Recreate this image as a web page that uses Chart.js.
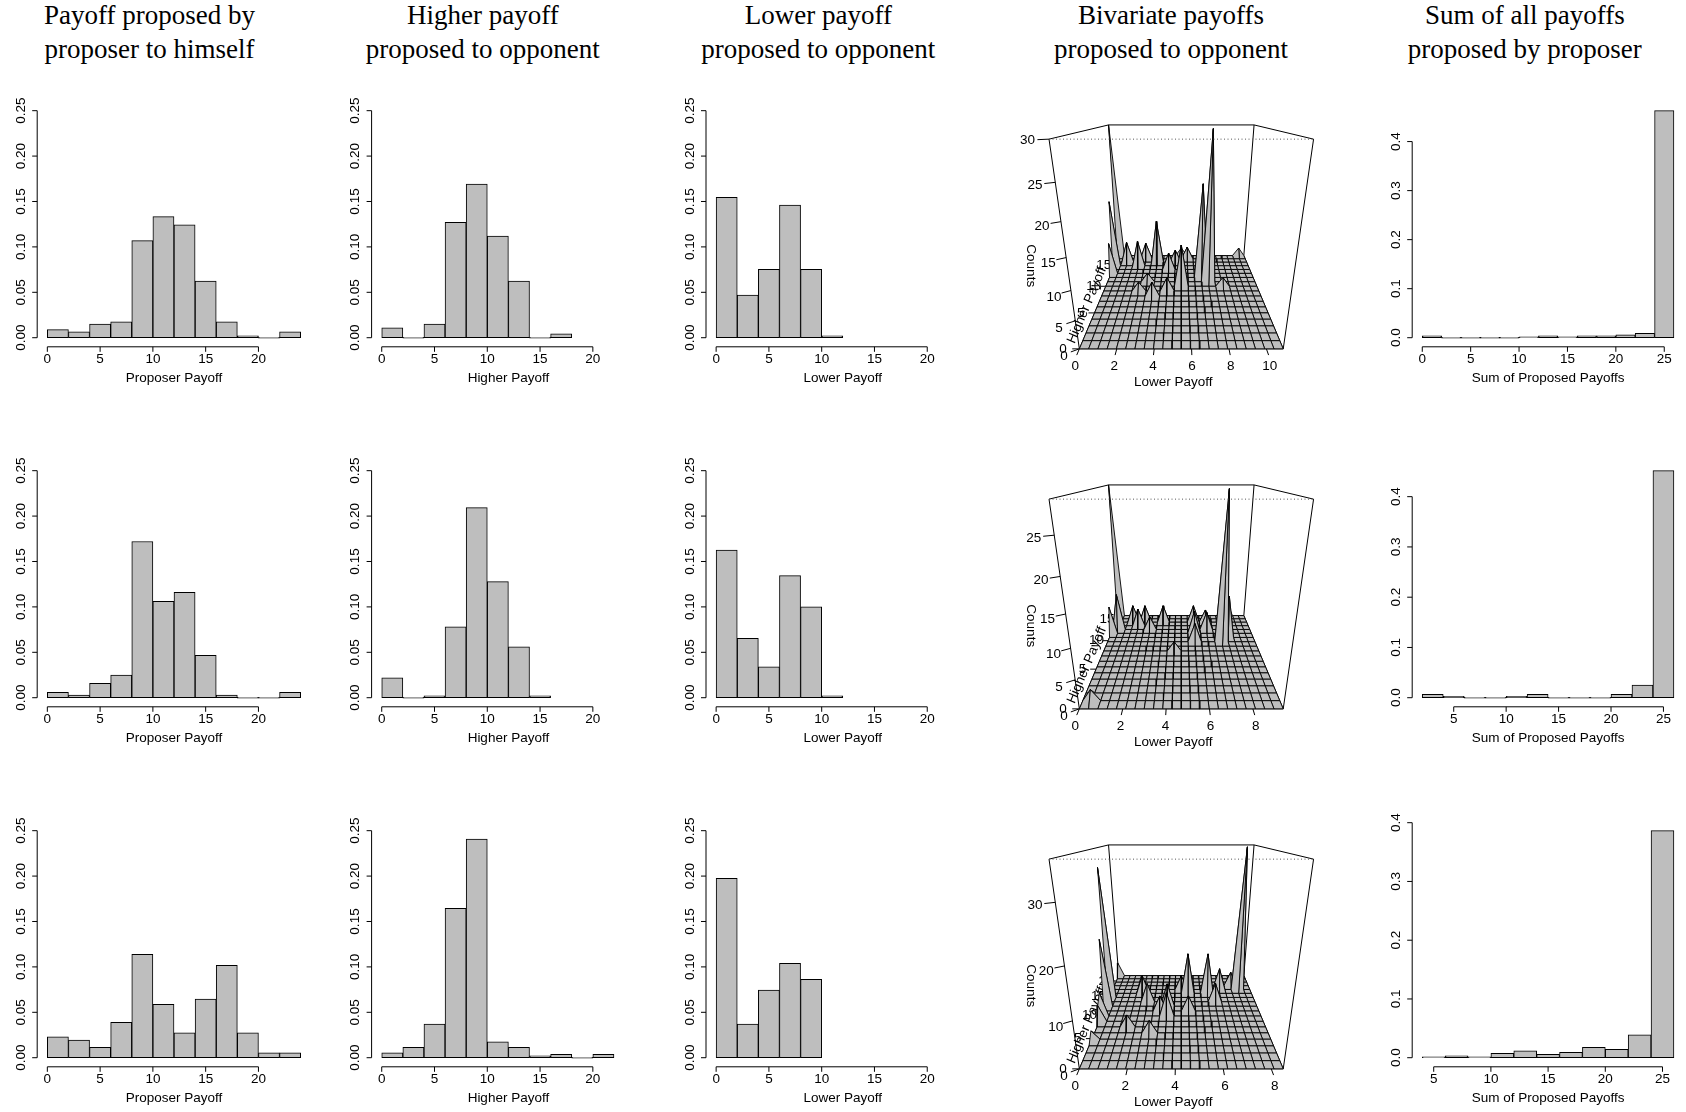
<!DOCTYPE html>
<html>
<head>
<meta charset="utf-8">
<script src="https://cdn.jsdelivr.net/npm/chart.js@4.4.1/dist/chart.umd.min.js"></script>
<style>
  body { margin: 0; background: #fff; width: 1686px; height: 1112px; position: relative; overflow: hidden; }
  canvas { position: absolute; }
  .title { position: absolute; top: -1px; transform: translateX(-50%); text-align: center; white-space: nowrap;
           font-family: "Liberation Serif", "Times New Roman", serif; font-size: 27px; line-height: 33.5px; color: #000; }
</style>
</head>
<body>
<script>
// ---- data ----
const columnTitles = [
    ['Payoff proposed by', 'proposer to himself'],
    ['Higher payoff', 'proposed to opponent'],
    ['Lower payoff', 'proposed to opponent'],
    ['Bivariate payoffs', 'proposed to opponent'],
    ['Sum of all payoffs', 'proposed by proposer']
];
const binWidth = 2;

// densities per 2-unit bin, one array per row (treatment)
const proposerPayoff = [
    [0.009, 0.0066, 0.015, 0.0176, 0.107, 0.1333, 0.1244, 0.0624, 0.0176, 0.0022, 0, 0.0066],
    [0.0059, 0.003, 0.0158, 0.025, 0.172, 0.106, 0.116, 0.0466, 0.003, 0, 0, 0.0059],
    [0.0231, 0.0195, 0.0114, 0.0389, 0.1138, 0.0587, 0.0275, 0.0646, 0.1017, 0.0275, 0.0055, 0.0055]
];
const higherPayoff = [
    [0.011, 0, 0.015, 0.127, 0.1692, 0.112, 0.0624, 0, 0.0044],
    [0.022, 0, 0.0022, 0.078, 0.2093, 0.1278, 0.056, 0.0022],
    [0.0055, 0.0114, 0.0371, 0.1645, 0.2408, 0.0176, 0.0114, 0.0022, 0.0037, 0, 0.0037]
];
const lowerPayoff = [
    [0.1545, 0.047, 0.0753, 0.146, 0.0753, 0.0022],
    [0.1626, 0.0653, 0.0341, 0.1344, 0.1002, 0.0022],
    [0.1975, 0.0371, 0.0745, 0.1039, 0.0863]
];
const sumPayoff = [
    [0.004, 0, 0, 0, 0, 0.002, 0.004, 0.002, 0.004, 0.004, 0.006, 0.009, 0.463],
    [0.0066, 0.0027, 0, 0, 0.0027, 0.0066, 0, 0, 0, 0.0066, 0.0252, 0.4517],
    [0.0017, 0.0034, 0.0017, 0.0074, 0.0119, 0.0057, 0.0091, 0.0176, 0.0142, 0.0391, 0.3864]
];
const sumFirstBreak = [0, 2, 4];

const payoffTicks = [0, 5, 10, 15, 20];
const densityTicks = [0, 0.05, 0.10, 0.15, 0.20, 0.25];
const sumTicks = [[0, 5, 10, 15, 20, 25], [5, 10, 15, 20, 25], [5, 10, 15, 20, 25]];
const sumDensityTicks = [0, 0.1, 0.2, 0.3, 0.4];

// bivariate counts: [lower payoff, higher payoff, count]
const bivariatePeaks1 = [
    [0, 18, 30], [0, 15, 15], [0, 13, 7], [2, 15, 6], [3.5, 16, 10], [5.5, 10, 9],
    [7, 12, 20], [7.4, 11, 30], [10.4, 18, 2], [1, 16, 5], [2.5, 17, 4], [4.5, 14, 4],
    [5, 16, 3], [6, 17, 3], [2.5, 9, 2], [3.5, 8, 3], [4.5, 9, 3], [3, 11, 2], [8.4, 10, 2], [5.5, 18, 2]
];
const bivariatePeaks2 = [
    [0, 16, 29], [7.3, 10.2, 29], [7.7, 11.1, 9], [0, 11.6, 6], [0.4, 12.4, 8],
    [1.3, 14.2, 4], [2.1, 14.2, 4], [3.4, 14.2, 4], [5.5, 14.2, 4], [6.4, 14.2, 3], [8.1, 16, 3],
    [5.5, 11.6, 5], [5.5, 9.8, 4], [4.3, 8, 2], [2.6, 12.4, 3], [1.7, 13.3, 4], [6.4, 12.4, 4], [0.4, 0.9, 2]
];
const bivariatePeaks3 = [
    [7.7, 17.1, 36], [0, 14.7, 32], [0, 12.2, 17], [0, 22, 4], [0, 9.8, 6], [0, 8.6, 4], [0, 4.9, 2],
    [4.6, 15.9, 11], [5.8, 15.9, 11], [3.5, 12.2, 6], [1.9, 15.9, 5], [2.3, 13.4, 5], [3.1, 11, 4],
    [3.5, 9.8, 6], [2.7, 6.1, 3], [1.5, 7.3, 3], [6.6, 17.1, 6], [7.3, 18.3, 4], [4.2, 17.1, 4],
    [6.2, 13.4, 5], [4.6, 11, 4]
];
const lowerRange3d = [10.9, 9.4, 8.5];
const higherRange3d = [18, 16, 22];
const countTicks3d = [[0, 5, 10, 15, 20, 25, 30], [0, 5, 10, 15, 20, 25], [0, 10, 20, 30]];
const lowerTicks3d = [[0, 2, 4, 6, 8, 10], [0, 2, 4, 6, 8], [0, 2, 4, 6, 8]];
const higherTicks3d = [[0, 5, 10, 15], [0, 5, 10, 15], [0, 5, 10, 15, 20]];

// ---- layout ----
const FONT = '13.5px "Liberation Sans", Arial, sans-serif';
const titleCenters = [149.5, 482.8, 818.3, 1171, 1524.8];
const ROW_STEP = 360;
const NX = 22, NY = 18;   // surface grid resolution
const view = { phi: 20 * Math.PI / 180, r: 3.58, k: 304, cx: 1181.3, cy: 218.2 };

columnTitles.forEach((t, i) => {
    const d = document.createElement('div');
    d.className = 'title';
    d.style.left = titleCenters[i] + 'px';
    d.innerHTML = t[0] + '<br>' + t[1];
    document.body.appendChild(d);
});

function addCanvas(left, top, width, height) {
    const cv = document.createElement('canvas');
    cv.width = width;
    cv.height = height;
    cv.style.left = left + 'px';
    cv.style.top = top + 'px';
    cv.style.width = width + 'px';
    cv.style.height = height + 'px';
    document.body.appendChild(cv);
    return cv;
}

// R style axes: lines only between the first and last tick
const rAxes = {
    id: 'rAxes',
    afterDraw(chart, args, opts) {
        const { ctx, chartArea: a, scales: { x, y } } = chart;
        ctx.save();
        ctx.strokeStyle = '#000';
        ctx.fillStyle = '#000';
        ctx.lineWidth = 1;
        ctx.font = FONT;
        ctx.textAlign = 'center';
        ctx.textBaseline = 'middle';

        const xs = opts.xTicks.map(v => x.getPixelForValue(v));
        const yb = a.bottom;
        ctx.beginPath();
        ctx.moveTo(xs[0], yb);
        ctx.lineTo(xs[xs.length - 1], yb);
        xs.forEach(px => { ctx.moveTo(px, yb); ctx.lineTo(px, yb + 5); });
        ctx.stroke();
        opts.xTicks.forEach((v, i) => ctx.fillText(String(v), xs[i], yb + 12.5));
        ctx.fillText(opts.xTitle, (a.left + a.right) / 2, yb + 31);

        const ys = opts.yTicks.map(v => y.getPixelForValue(v));
        const xl = a.left;
        ctx.beginPath();
        ctx.moveTo(xl, ys[0]);
        ctx.lineTo(xl, ys[ys.length - 1]);
        ys.forEach(py => { ctx.moveTo(xl, py); ctx.lineTo(xl - 5, py); });
        ctx.stroke();
        opts.yTicks.forEach((v, i) => {
            ctx.save();
            ctx.translate(xl - 16, ys[i]);
            ctx.rotate(-Math.PI / 2);
            ctx.fillText(v.toFixed(opts.digits), 0, 0);
            ctx.restore();
        });
        ctx.restore();
    }
};

function drawHistogram(box, plot, values, firstBreak, xlim, ymax, xTicks, yTicks, digits, xTitle) {
    const cv = addCanvas(box.left, box.top, box.width, box.height);
    const xr = xlim[1] - xlim[0];
    new Chart(cv, {
        type: 'bar',
        data: {
            datasets: [{
                data: values.map((v, i) => ({ x: firstBreak + binWidth * (i + 0.5), y: v })),
                backgroundColor: '#bebebe',
                borderColor: '#000',
                borderWidth: 1,
                borderSkipped: false,
                barPercentage: 1,
                categoryPercentage: 1,
                minBarLength: 1
            }]
        },
        options: {
            responsive: false,
            animation: false,
            events: [],
            devicePixelRatio: 1,
            layout: { padding: {
                left: plot.left - box.left, right: box.left + box.width - plot.right,
                top: plot.top - box.top, bottom: box.top + box.height - plot.bottom } },
            plugins: { legend: { display: false }, tooltip: { enabled: false },
                       rAxes: { xTicks, yTicks, digits, xTitle } },
            scales: {
                x: { type: 'linear', display: false, offset: false,
                     min: xlim[0] - 0.04 * xr, max: xlim[1] + 0.04 * xr,
                     ticks: { stepSize: 2, includeBounds: false, maxTicksLimit: 100 } },
                y: { type: 'linear', display: false, min: -0.04 * ymax, max: 1.04 * ymax }
            }
        },
        plugins: [rAxes]
    });
}

const histColumns = [
    { values: proposerPayoff, title: 'Proposer Payoff' },
    { values: higherPayoff, title: 'Higher Payoff' },
    { values: lowerPayoff, title: 'Lower Payoff' }
];

for (let r = 0; r < 3; r++) {
    const top = 101.6 + ROW_STEP * r, bottom = 346.8 + ROW_STEP * r;
    histColumns.forEach((col, c) => {
        const off = c * 334.4;
        drawHistogram({ left: Math.round(off), top: 80 + ROW_STEP * r, width: 334, height: 312 },
                      { left: 37.2 + off, right: 310.8 + off, top, bottom },
                      col.values[r], 0, [0, 24], 0.25, payoffTicks, densityTicks, 2, col.title);
    });
    const sums = sumPayoff[r];
    drawHistogram({ left: 1370, top: 80 + ROW_STEP * r, width: 316, height: 312 },
                  { left: 1412.2, right: 1684, top, bottom },
                  sums, sumFirstBreak[r], [sumFirstBreak[r], sumFirstBreak[r] + binWidth * sums.length],
                  Math.max(...sums), sumTicks[r], sumDensityTicks, 1, 'Sum of Proposed Payoffs');
}

// ---- perspective surfaces ----
function project(X, Y, Z, cy) {
    const s = Math.sin(view.phi), c = Math.cos(view.phi);
    const sv = Y * s + Z * c, dd = Y * c - Z * s;
    const w = view.k / (view.r + dd);
    return { x: view.cx + X * w, y: cy - sv * w };
}

// axes of the box are drawn before the surface, so tall facets can hide them
const perspLabels = {
    id: 'perspLabels',
    beforeDatasetsDraw(chart, args, o) {
        const { ctx, scales: { x, y } } = chart;
        const P = (X, Y, Z) => {
            const p = project(X, Y, Z, o.cy);
            return { x: x.getPixelForValue(p.x), y: y.getPixelForValue(p.y) };
        };
        const seg = (a, b) => { ctx.moveTo(a.x, a.y); ctx.lineTo(b.x, b.y); };
        ctx.save();
        ctx.strokeStyle = '#000';
        ctx.fillStyle = '#000';
        ctx.lineWidth = 1;
        ctx.font = FONT;
        ctx.textAlign = 'center';
        ctx.textBaseline = 'middle';
        ctx.beginPath();
        o.countTicks.forEach(v => {
            const Z = 2 * v / o.zmax - 1;
            seg(P(-1, -1, Z), P(-1.07, -1.04, Z));
        });
        o.lowerTicks.forEach(v => {
            const X = 2 * v / o.lowerMax - 1;
            seg(P(X, -1, -1), P(X, -1.08, -1));
        });
        o.higherTicks.forEach(v => {
            const Y = 2 * v / o.higherMax - 1;
            seg(P(-1, Y, -1), P(-1.07, Y, -1));
        });
        ctx.stroke();

        o.countTicks.forEach(v => {
            const t = P(-1.115, -1.1, 2 * v / o.zmax - 1);
            ctx.fillText(String(v), t.x, t.y);
        });
        o.lowerTicks.forEach(v => {
            const t = P(2 * v / o.lowerMax - 1, -1.12, -1);
            ctx.fillText(String(v), t.x, t.y + 8);
        });
        o.higherTicks.forEach(v => {
            const t = P(-1.16, 2 * v / o.higherMax - 1, -1);
            ctx.fillText(String(v), t.x, t.y);
        });
        const mid = P(0, -1, -1);
        ctx.fillText('Lower Payoff', mid.x - 8, mid.y + 33);

        const cl = P(-1.32, -1, -0.08);
        ctx.save();
        ctx.translate(cl.x, cl.y);
        ctx.rotate(Math.PI / 2);
        ctx.fillText('Counts', 0, 0);
        ctx.restore();

        const e0 = P(-1, -1, -1), e1 = P(-1, 1, -1), hl = P(-1.13, -0.3, -1);
        ctx.save();
        ctx.translate(hl.x, hl.y);
        ctx.rotate(Math.atan2(e1.y - e0.y, e1.x - e0.x));
        ctx.fillText('Higher Payoff', 0, 0);
        ctx.restore();
        ctx.restore();
    }
};

function drawPersp(row, peaks, lowerMax, higherMax, countTicks, lowerTicks, higherTicks) {
    const box = { left: 1000, top: 92 + ROW_STEP * row, width: 345, height: 300 };
    const cy = view.cy + ROW_STEP * row;
    const counts = Array.from({ length: NX + 1 }, () => new Array(NY + 1).fill(0));
    peaks.forEach(([lo, hi, n]) => {
        const i = Math.round(lo / lowerMax * NX), j = Math.round(hi / higherMax * NY);
        counts[i][j] = Math.max(counts[i][j], n);
    });
    const zmax = Math.max(...peaks.map(p => p[2]));
    const P = (X, Y, Z) => project(X, Y, Z, cy);
    const node = (i, j) => P(2 * i / NX - 1, 2 * j / NY - 1, 2 * counts[i][j] / zmax - 1);

    const paint = [];
    const edge = (a, b, dotted) => paint.push({
        data: [P(...a), P(...b)],
        borderColor: dotted ? '#555' : '#000',
        borderWidth: 1,
        borderDash: dotted ? [1, 2.5] : [],
        fill: false
    });
    // box edges behind the surface
    edge([-1, 1, -1], [-1, 1, 1]); edge([1, 1, -1], [1, 1, 1]); edge([-1, 1, 1], [1, 1, 1]);
    edge([-1, -1, 1], [-1, 1, 1]); edge([1, -1, 1], [1, 1, 1]);
    edge([-1, -1, -1], [-1, -1, 1]); edge([1, -1, -1], [1, -1, 1]);
    edge([-1, -1, -1], [1, -1, -1]); edge([-1, 1, -1], [1, 1, -1]);
    edge([-1, -1, -1], [-1, 1, -1]); edge([1, -1, -1], [1, 1, -1]);
    // surface facets, back rows first
    for (let j = NY - 1; j >= 0; j--) {
        const cols = [...Array(NX).keys()].sort((a, b) => Math.abs(b + 0.5 - NX / 2) - Math.abs(a + 0.5 - NX / 2));
        cols.forEach(i => paint.push({
            data: [node(i, j), node(i + 1, j), node(i + 1, j + 1), node(i, j + 1), node(i, j)],
            borderColor: '#000',
            borderWidth: 0.9,
            backgroundColor: '#bebebe',
            fill: 'shape'
        }));
    }
    // front top edge, dotted, in front of the surface
    edge([-1, -1, 1], [1, -1, 1], true);

    const datasets = paint.map((d, p) => Object.assign({ pointRadius: 0, tension: 0, order: paint.length - p }, d));
    const cv = addCanvas(box.left, box.top, box.width, box.height);
    new Chart(cv, {
        type: 'line',
        data: { datasets },
        options: {
            responsive: false,
            animation: false,
            events: [],
            devicePixelRatio: 1,
            layout: { padding: 0 },
            elements: { point: { radius: 0 }, line: { tension: 0 } },
            plugins: {
                legend: { display: false },
                tooltip: { enabled: false },
                perspLabels: { cy, zmax, lowerMax, higherMax, countTicks, lowerTicks, higherTicks }
            },
            scales: {
                x: { type: 'linear', display: false, min: box.left, max: box.left + box.width },
                y: { type: 'linear', display: false, reverse: true, min: box.top, max: box.top + box.height }
            }
        },
        plugins: [perspLabels]
    });
}

[bivariatePeaks1, bivariatePeaks2, bivariatePeaks3].forEach((peaks, r) =>
    drawPersp(r, peaks, lowerRange3d[r], higherRange3d[r], countTicks3d[r], lowerTicks3d[r], higherTicks3d[r]));
</script>
</body>
</html>
